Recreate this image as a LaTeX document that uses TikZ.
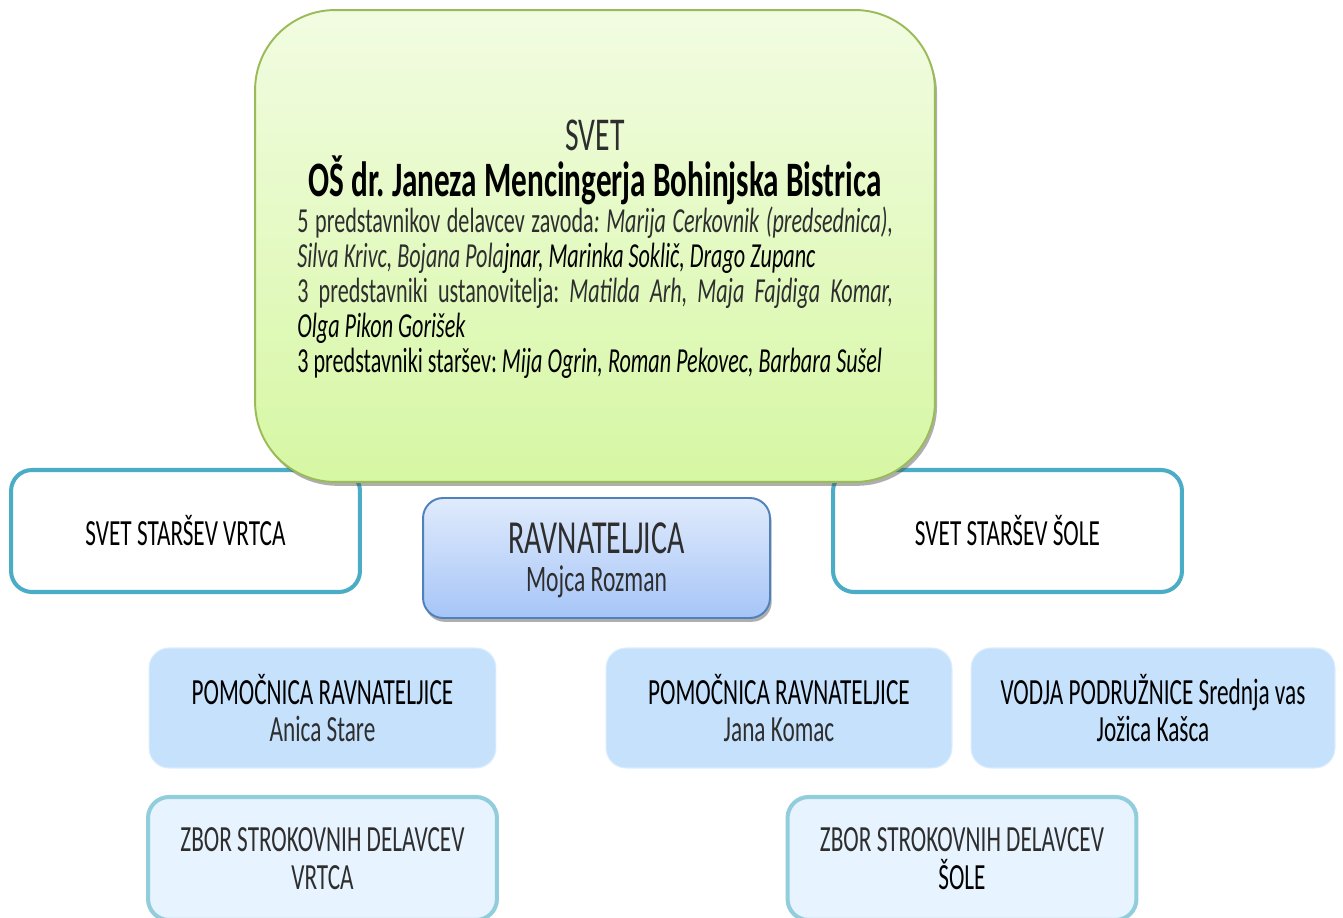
\documentclass[tikz,border=0pt]{standalone}
\usepackage{fontspec}
\setmainfont{Carlito}[FakeStretch=0.63]
\usetikzlibrary{shadows}
\frenchspacing
\definecolor{greenborder}{HTML}{9BBB59}
\definecolor{greentop}{HTML}{F2FCE2}
\definecolor{greenbot}{HTML}{D6F7A3}
\definecolor{tealborder}{HTML}{4BACC6}
\definecolor{blueborder}{HTML}{4F81BD}
\definecolor{bluetop}{HTML}{E0EBFC}
\definecolor{bluebot}{HTML}{A6C5F7}
\definecolor{pomfill}{HTML}{C5E1FC}
\definecolor{zborfill}{HTML}{E7F3FE}
\definecolor{zborborder}{HTML}{92CDDC}
\definecolor{lighttxt}{HTML}{2E2E2E}
\tikzset{
  boxtext/.style={font=\fontsize{21pt}{21.5pt}\selectfont, align=center},
  tealbox/.style={draw=tealborder, line width=2.3pt, fill=white, rounded corners=0.42cm, boxtext, text=black},
  greenbox/.style={draw=greenborder, line width=1.1pt, top color=greentop, bottom color=greenbot, rounded corners=1.6cm,
     drop shadow={shadow xshift=1.2pt, shadow yshift=-2.2pt, opacity=0.45, fill=black!70}},
  ravbox/.style={draw=blueborder, line width=1.1pt, top color=bluetop, bottom color=bluebot, rounded corners=0.4cm,
     drop shadow={shadow xshift=1pt, shadow yshift=-2.2pt, opacity=0.45, fill=black!70}},
  pombox/.style={fill=pomfill, draw=pomfill!60!white, line width=0.6pt, rounded corners=0.4cm, boxtext, text=black},
  zborbox/.style={fill=zborfill, draw=zborborder, line width=2.3pt, rounded corners=0.42cm, boxtext, text=lighttxt},
  bodyline/.style={anchor=base west, inner sep=0pt, font=\fontsize{20pt}{21pt}\selectfont},
}
\begin{document}
\begin{tikzpicture}[x=0.02cm,y=-0.02cm]
\useasboundingbox (0,0) rectangle (1343,918);
\clip (0,0) rectangle (1343,918);
% teal boxes (under the green box)
\node[tealbox, minimum width=6.98cm, minimum height=2.44cm] (vrtec) at (185.5,531) {SVET STARŠEV VRTCA};
\node[tealbox, minimum width=6.98cm, minimum height=2.44cm] (sola) at (1007.5,531) {SVET STARŠEV ŠOLE};
% green council box
\node[greenbox, minimum width=13.6cm, minimum height=9.44cm] (svetbox) at (595,246) {};
\node[anchor=base, inner sep=0pt, font=\fontsize{26.8pt}{26pt}\selectfont, text=lighttxt] (svet) at (595,151) {SVET};
\node[anchor=base, inner sep=0pt, font=\fontsize{28.2pt}{28pt}\selectfont\bfseries] (sola-ime) at (595,197) {OŠ dr.\ Janeza Mencingerja Bohinjska Bistrica};
\node[bodyline, text=lighttxt] (l1) at (297,233) {\makebox[11.92cm][s]{5 predstavnikov delavcev zavoda\textit{: Marija Cerkovnik (predsednica),}}};
\node[bodyline] (l2) at (297,268) {\textit{\textcolor{lighttxt}{Silva Krivc, Bojana Pola}jnar, Marinka Soklič, Drago Zupanc}};
\node[bodyline, text=lighttxt] (l3) at (297,303) {\makebox[11.92cm][s]{3 predstavniki ustanovitelja: \textit{Matilda Arh, Maja Fajdiga Komar,}}};
\node[bodyline] (l4) at (297,338) {\textit{Olga Pikon Gorišek}};
\node[bodyline] (l5) at (297,373) {3 predstavniki staršev: \textit{Mija Ogrin, Roman Pekovec, Barbara Sušel}};
% director
\node[ravbox, minimum width=6.94cm, minimum height=2.4cm] (rav) at (596.5,558) {};
\node[anchor=base, inner sep=0pt, font=\fontsize{27pt}{26pt}\selectfont, text=lighttxt] (ravt) at (596.5,554) {RAVNATELJICA};
\node[anchor=base, inner sep=0pt, font=\fontsize{21.3pt}{22pt}\selectfont, text=lighttxt] (ravn) at (596.5,592) {Mojca Rozman};
% assistants
\node[pombox, minimum width=6.94cm, minimum height=2.4cm] (pom1) at (322.5,708) {POMOČNICA RAVNATELJICE\\\textcolor{lighttxt}{Anica Stare}};
\node[pombox, minimum width=6.92cm, minimum height=2.4cm] (pom2) at (779,708) {POMOČNICA RAVNATELJICE\\\textcolor{lighttxt}{Jana Komac}};
\node[pombox, minimum width=7.28cm, minimum height=2.4cm] (vodja) at (1153,708) {VODJA PODRUŽNICE Srednja vas\\Jožica Kašca};
% staff assemblies
\node[zborbox, minimum width=6.98cm, minimum height=2.46cm] (zbor1) at (322.5,858.5) {ZBOR STROKOVNIH DELAVCEV\\VRTCA};
\node[zborbox, minimum width=6.98cm, minimum height=2.46cm] (zbor2) at (962,858.5) {ZBOR STROKOVNIH DELAVCEV\\\textcolor{black}{ŠOLE}};
\end{tikzpicture}
\end{document}
